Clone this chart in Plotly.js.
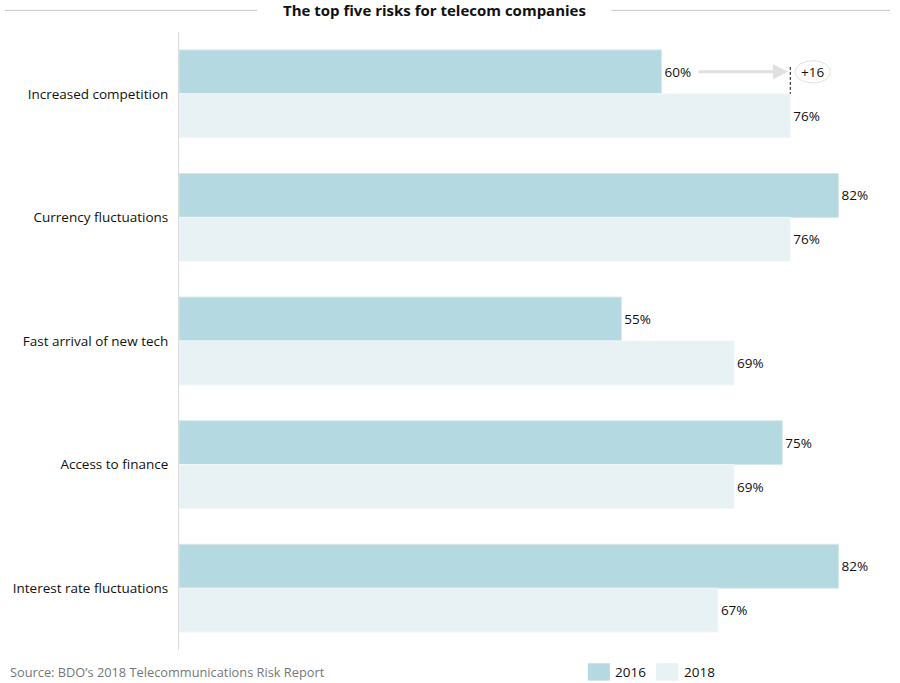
<!DOCTYPE html>
<html>
<head>
<meta charset="utf-8">
<script src="https://cdn.plot.ly/plotly-3.0.1.min.js"></script>
<style>html,body{margin:0;padding:0;background:#fff;}#chart{width:900px;height:683px;}</style>
</head>
<body>
<div id="chart"></div>
<script>
const categories = ["Increased competition", "Currency fluctuations", "Fast arrival of new tech", "Access to finance", "Interest rate fluctuations"];
const values2016 = [60, 82, 55, 75, 82];
const values2018 = [76, 76, 69, 69, 67];
const seriesNames = ["2016", "2018"];
const changeLabel = "+16";

const c2016 = "#b5d9e0";
const c2018 = "#e8f1f3";
const font = "Open Sans, Liberation Sans, sans-serif";

const bargap = 0.29;
const half = (1 - bargap) / 4; // center offset of each bar within group

const traces = [
  {
    type: "bar", orientation: "h", name: seriesNames[0],
    y: categories, x: values2016,
    marker: {color: c2016, line: {color: "#d6e8ec", width: 1}},
    text: values2016.map(v => v + "%"), textposition: "outside",
    textfont: {family: font, size: 13.5, color: "#111"}, cliponaxis: false,
    hoverinfo: "none"
  },
  {
    type: "bar", orientation: "h", name: seriesNames[1],
    y: categories, x: values2018,
    marker: {color: c2018, line: {color: "#f2f7f8", width: 1}},
    text: values2018.map(v => v + "%"), textposition: "outside",
    textfont: {family: font, size: 13.5, color: "#111"}, cliponaxis: false,
    hoverinfo: "none"
  }
];

const yArrow = 0 - half;
const legY = -0.036;
const layout = {
  width: 900, height: 683,
  margin: {l: 179, r: 10, t: 32, b: 33},
  paper_bgcolor: "#fff", plot_bgcolor: "#fff",
  barmode: "group", bargap: bargap, bargroupgap: 0,
  showlegend: false,
  font: {family: font, size: 13, color: "#111"},
  xaxis: {range: [0, 88.4], showgrid: false, zeroline: false, showticklabels: false, showline: false, fixedrange: true},
  yaxis: {
    autorange: "reversed", showgrid: false, zeroline: false,
    showline: true, linecolor: "#dcdcdc", linewidth: 1,
    ticks: "outside", ticklen: 7, tickcolor: "rgba(0,0,0,0)",
    tickfont: {family: font, size: 13.5, color: "#111"}
  },
  shapes: [
    {type: "line", xref: "paper", yref: "paper", x0: -0.245, x1: 0.11, y0: 1.035, y1: 1.035, line: {color: "#c8c8c8", width: 1}},
    {type: "line", xref: "paper", yref: "paper", x0: 0.608, x1: 1.0, y0: 1.035, y1: 1.035, line: {color: "#c8c8c8", width: 1}},
    {type: "line", xref: "x", yref: "y", x0: values2018[0], x1: values2018[0], y0: yArrow - 0.04, y1: 0, line: {color: "#111", width: 1, dash: "3px,2px"}},
    {type: "circle", xref: "x", yref: "y", x0: values2018[0] + 0.6, x1: values2018[0] + 5.0, y0: yArrow - 0.09, y1: yArrow + 0.09, line: {color: "#e0e0e0", width: 1}, fillcolor: "#fff"},
    {type: "rect", xref: "paper", yref: "paper", x0: 0.575, x1: 0.606, y0: legY + 0.0145, y1: legY - 0.0135, fillcolor: c2016, line: {width: 0}},
    {type: "rect", xref: "paper", yref: "paper", x0: 0.671, x1: 0.702, y0: legY + 0.0145, y1: legY - 0.0135, fillcolor: c2018, line: {width: 0}}
  ],
  annotations: [
    {text: "<b>The top five risks for telecom companies</b>", xref: "paper", yref: "paper", x: 0.36, y: 1.035, xanchor: "center", yanchor: "middle", showarrow: false, font: {family: font, size: 15, color: "#111"}},
    {text: "", xref: "x", yref: "y", axref: "x", ayref: "y", x: values2018[0] - 0.3, y: yArrow, ax: values2016[0] + 4.4, ay: yArrow, showarrow: true, arrowhead: 2, arrowsize: 1, arrowwidth: 3, arrowcolor: "#e0e0e0", standoff: 0, startstandoff: 0},
    {text: changeLabel, xref: "x", yref: "y", x: values2018[0] + 2.8, y: yArrow, xanchor: "center", yanchor: "middle", showarrow: false, font: {family: font, size: 13.5, color: "#111"}},
    {text: "Source: BDO’s 2018 Telecommunications Risk Report", xref: "paper", yref: "paper", x: -0.2405, y: legY, xanchor: "left", yanchor: "middle", showarrow: false, font: {family: font, size: 12.8, color: "#777"}},
    {text: seriesNames[0], xref: "paper", yref: "paper", x: 0.611, y: legY, xanchor: "left", yanchor: "middle", showarrow: false, font: {family: font, size: 13.5, color: "#111"}},
    {text: seriesNames[1], xref: "paper", yref: "paper", x: 0.707, y: legY, xanchor: "left", yanchor: "middle", showarrow: false, font: {family: font, size: 13.5, color: "#111"}}
  ]
};

Plotly.newPlot("chart", traces, layout, {displayModeBar: false, staticPlot: true});
</script>
</body>
</html>
